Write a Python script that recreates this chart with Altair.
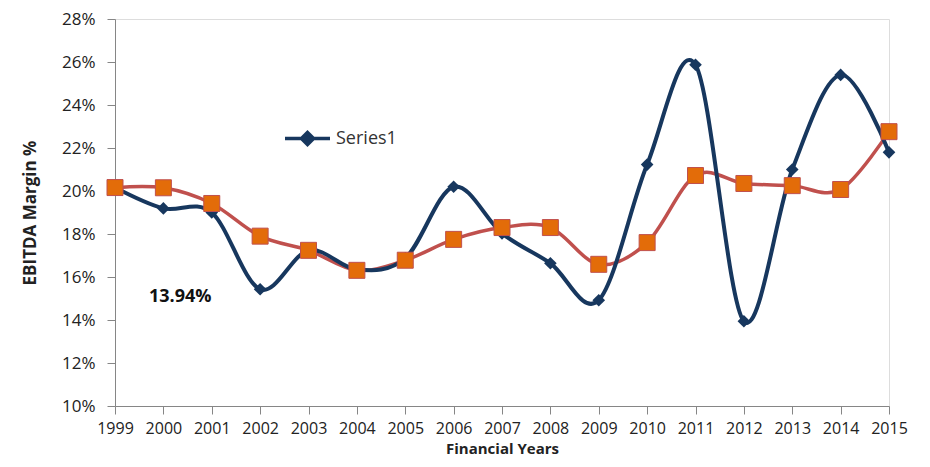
import altair as alt
import pandas as pd

years = list(range(1999, 2016))
series1 = [20.16, 19.19, 19.0, 15.43, 17.24, 16.35, 16.87, 20.2, 18.03, 16.64,
           14.92, 21.23, 25.87, 13.94, 21.0, 25.4, 21.8]
series2 = [20.16, 20.15, 19.42, 17.9, 17.24, 16.31, 16.78, 17.75, 18.3, 18.3,
           16.59, 17.6, 20.72, 20.35, 20.25, 20.07, 22.76]
y_ticks = [10, 12, 14, 16, 18, 20, 22, 24, 26, 28]
annot_text = ["13.94%"]
annot_x = [2000.35]
annot_y = [15.05]

NAVY = "#17375E"
RED = "#C0504D"
ORANGE = "#E36C09"
FONT = "Open Sans"

df1 = pd.DataFrame({"year": years, "value": series1, "series": "Series1"})
df2 = pd.DataFrame({"year": years, "value": series2, "series": "Series2"})
dfa = pd.DataFrame({"year": annot_x, "value": annot_y, "text": annot_text})

x_enc = alt.X("year:Q",
              scale=alt.Scale(domain=[1999, 2015], nice=False, zero=False),
              axis=alt.Axis(values=years, format="d", title="Financial Years",
                            grid=False, tickSize=8, labelPadding=6,
                            labelFontSize=16, labelFont=FONT, labelColor="#222222",
                            titleFont=FONT, titleFontSize=15, titleFontWeight="bold",
                            titleColor="#222222", titlePadding=5,
                            domainColor="#868686", tickColor="#868686",
                            labelFlush=False, labelOverlap=False))
y_enc = alt.Y("value:Q",
              scale=alt.Scale(domain=[10, 28], nice=False, zero=False),
              axis=alt.Axis(values=y_ticks, labelExpr="datum.value + '%'",
                            title="EBITDA Margin %", grid=False, tickSize=8,
                            labelPadding=12, labelFontSize=17, labelFont=FONT,
                            labelColor="#222222", titleFont=FONT, titleFontSize=17,
                            titleFontWeight="bold", titleColor="#222222",
                            titlePadding=22, domainColor="#868686",
                            tickColor="#868686"))

legend_path = "M-1,0L1,0M0,-0.27L0.27,0L0,0.27L-0.27,0Z"

line1 = alt.Chart(df1).mark_line(interpolate="cardinal", strokeWidth=4).encode(
    x=x_enc, y=y_enc,
    color=alt.Color("series:N",
                    scale=alt.Scale(domain=["Series1"], range=[NAVY]),
                    legend=alt.Legend(orient="none", legendX=168, legendY=95,
                                      title=None, symbolType=legend_path,
                                      symbolSize=2025, symbolStrokeWidth=3.5,
                                      symbolFillColor=NAVY, symbolStrokeColor=NAVY,
                                      labelFont=FONT, labelFontSize=18,
                                      labelColor="#333333", labelOffset=4))
)
pts1 = alt.Chart(df1).mark_point(shape="diamond", filled=True, size=160,
                                 color=NAVY, opacity=1).encode(x="year:Q", y="value:Q")
line2 = alt.Chart(df2).mark_line(interpolate="cardinal", strokeWidth=3.5,
                                 color=RED).encode(x="year:Q", y="value:Q")
pts2 = alt.Chart(df2).mark_point(shape="square", filled=True, size=256,
                                 fill=ORANGE, stroke=RED, strokeWidth=1,
                                 opacity=1).encode(x="year:Q", y="value:Q")
annot = alt.Chart(dfa).mark_text(font=FONT, fontSize=18, fontWeight="bold",
                                 color="#111111").encode(
    x="year:Q", y="value:Q", text="text:N")

chart = alt.layer(line2, line1, pts1, pts2, annot).properties(
    width=774, height=387,
    autosize=alt.AutoSizeParams(type="none"),
    padding={"left": 107, "top": 11, "right": 33, "bottom": 53},
).configure_view(stroke=None).configure(background="white")

chart.save("out.html", embed_options={"renderer": "svg", "actions": False})
